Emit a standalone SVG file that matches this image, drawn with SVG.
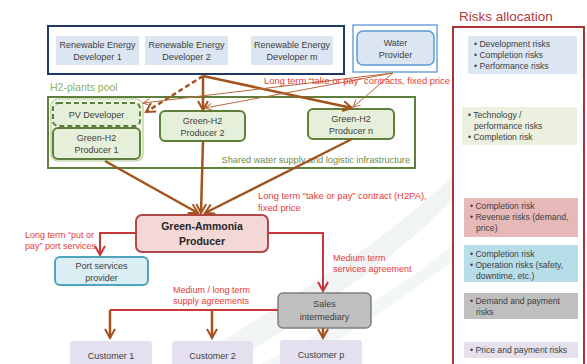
<svg xmlns="http://www.w3.org/2000/svg" width="587" height="364" viewBox="0 0 587 364">
<defs>
<style>
text{font-family:"Liberation Sans",Arial,sans-serif;fill:#404040}
.n{font-size:9px;text-anchor:middle}
.b{font-size:10.5px;font-weight:bold;text-anchor:middle;fill:#262626}
.lab{font-size:9px;fill:#e8393b}
.r{font-size:8.6px;fill:#404040}
.brown{stroke:#a4531c;fill:none}
.red{stroke:#c8373a;fill:none;stroke-width:2}
.thin{stroke:#b8693a;fill:none;stroke-width:1}
</style>
<marker id="ab" markerWidth="12" markerHeight="12" refX="10" refY="6" orient="auto" markerUnits="userSpaceOnUse"><path d="M1,1 L10,6 L1,11" fill="none" stroke="#a4531c" stroke-width="2"/></marker>
<marker id="at" markerWidth="10" markerHeight="10" refX="8" refY="5" orient="auto" markerUnits="userSpaceOnUse"><path d="M1,1.5 L8,5 L1,8.5" fill="none" stroke="#b8693a" stroke-width="1"/></marker>
<marker id="ar" markerWidth="12" markerHeight="12" refX="10" refY="6" orient="auto" markerUnits="userSpaceOnUse"><path d="M1,1 L10,6 L1,11" fill="none" stroke="#c8373a" stroke-width="2"/></marker>
</defs>
<rect width="587" height="364" fill="#ffffff"/>
<!-- faint background swoosh -->
<path d="M190,364 C280,300 380,250 452,175 L452,200 C390,265 300,320 230,364 Z" fill="#f0f4f5"/>
<path d="M260,364 C330,330 400,290 452,245 L452,262 C400,300 340,340 300,364 Z" fill="#f3f6f7"/>

<g id="renewable-group">
<rect x="48" y="26" width="296" height="48" fill="#ffffff" stroke="#1f3864" stroke-width="2"/>
</g>
<g id="red1"><rect x="56" y="36" width="83" height="29" fill="#dce6f2"/><text class="n" x="97.5" y="48">Renewable Energy</text><text class="n" x="97.5" y="60">Developer 1</text></g>
<g id="red2"><rect x="145" y="36" width="83" height="29" fill="#dce6f2"/><text class="n" x="186.5" y="48">Renewable Energy</text><text class="n" x="186.5" y="60">Developer 2</text></g>
<g id="redm"><rect x="251" y="36" width="82" height="29" fill="#dce6f2"/><text class="n" x="292" y="48">Renewable Energy</text><text class="n" x="292" y="60">Developer   m</text></g>
<g id="water">
<rect x="353" y="25" width="84" height="47" fill="#ffffff" stroke="#6fa4dc" stroke-width="1.5"/>
<rect x="357" y="31" width="77" height="34" rx="6" fill="#dce6f2" stroke="#5b9bd5" stroke-width="1.5"/>
<text class="n" x="395.5" y="46">Water</text><text class="n" x="395.5" y="58">Provider</text>
</g>

<g id="pool">
<text x="50" y="91" style="font-size:10.5px;fill:#8fb35f">H2-plants pool</text>
<rect x="48" y="97" width="367" height="71" fill="#ffffff" stroke="#5f7f3c" stroke-width="2"/>
<text x="410" y="163" style="font-size:9.2px;fill:#6b8a4a;text-anchor:end">Shared water supply and logistic infrastructure</text>
<rect x="51" y="99" width="92" height="62" rx="7" fill="#f3f7ec" stroke="#b5cf91" stroke-width="1.2"/>
</g>
<g id="pv"><rect x="53" y="103" width="87" height="23" rx="5" fill="#e6efd9" stroke="#5f7f3c" stroke-width="2" stroke-dasharray="5,3"/><text class="n" x="96.5" y="117.5">PV Developer</text></g>
<g id="p1"><rect x="53" y="128" width="87" height="31" rx="5" fill="#e6efd9" stroke="#5f7f3c" stroke-width="2"/><text class="n" x="96.5" y="141">Green-H2</text><text class="n" x="96.5" y="153">Producer 1</text></g>
<g id="p2"><rect x="160" y="111" width="85" height="30" rx="5" fill="#e6efd9" stroke="#5f7f3c" stroke-width="2"/><text class="n" x="202.5" y="123.5">Green-H2</text><text class="n" x="202.5" y="135.5">Producer 2</text></g>
<g id="pn"><rect x="308" y="109" width="86" height="30" rx="5" fill="#e6efd9" stroke="#5f7f3c" stroke-width="2"/><text class="n" x="351" y="121.5">Green-H2</text><text class="n" x="351" y="133.5">Producer n</text></g>

<g id="ammonia"><rect x="136" y="215" width="132" height="37" rx="6" fill="#f4d7d7" stroke="#b0484a" stroke-width="2"/><text class="b" x="202" y="230">Green-Ammonia</text><text class="b" x="202" y="245">Producer</text></g>
<g id="port"><rect x="55" y="257" width="93" height="28" rx="5" fill="#dbeef3" stroke="#4ea3bd" stroke-width="2"/><text class="n" x="101.5" y="269">Port services</text><text class="n" x="101.5" y="281">provider</text></g>
<g id="sales"><rect x="278" y="293" width="93" height="35" rx="5" fill="#bfbfbf" stroke="#7f7f7f" stroke-width="1.5"/><text class="n" x="324.5" y="307">Sales</text><text class="n" x="324.5" y="320">intermediary</text></g>
<g id="c1"><rect x="70" y="341" width="82" height="26" rx="3" fill="#e5e0ef"/><text class="n" x="111" y="359">Customer 1</text></g>
<g id="c2"><rect x="172" y="341" width="81" height="26" rx="3" fill="#e5e0ef"/><text class="n" x="212.5" y="359">Customer 2</text></g>
<g id="cp"><rect x="280" y="340" width="82" height="27" rx="3" fill="#e5e0ef"/><text class="n" x="321" y="358">Customer  p</text></g>

<g id="connectors">
<path class="brown" d="M203,76 L146,112" stroke-width="2.5" stroke-dasharray="5,3" marker-end="url(#ab)"/>
<path class="brown" d="M203,76 L203,110" stroke-width="2.5" marker-end="url(#ab)"/>
<path class="brown" d="M203,76 L352,108" stroke-width="2.5" marker-end="url(#ab)"/>
<path class="thin" d="M393,73 L143,103" marker-end="url(#at)"/>
<path class="thin" d="M393,73 L205,108" marker-end="url(#at)"/>
<path class="thin" d="M393,73 L353,107" marker-end="url(#at)"/>
<path class="brown" d="M105,161 L198,213" stroke-width="2.5" marker-end="url(#ab)"/>
<path class="brown" d="M203,141 L201,213" stroke-width="2.5" marker-end="url(#ab)"/>
<path class="brown" d="M352,139 L205,213" stroke-width="2.5" marker-end="url(#ab)"/>
<path class="red" d="M136,233 H100 V255" marker-end="url(#ar)"/>
<path class="red" d="M268,233 H323 V291" marker-end="url(#ar)"/>
<path class="red" d="M278,310 H110"/>
<path class="brown" d="M110,310 V338" stroke-width="2.5" marker-end="url(#ab)"/>
<path class="brown" d="M212,310 V338" stroke-width="2.5" marker-end="url(#ab)"/>
<path class="brown" d="M323,328 V338" stroke-width="2.5" marker-end="url(#ab)"/>
</g>

<g id="labels">
<text class="lab" x="264" y="84" style="font-size:9.4px">Long term “take or pay” contracts, fixed price</text>
<text class="lab" x="258" y="199" style="font-size:9.4px">Long term “take or pay” contract (H2PA),</text>
<text class="lab" x="258" y="211" style="font-size:9.4px">fixed price</text>
<text class="lab" x="25" y="238">Long term “put or</text>
<text class="lab" x="25" y="249">pay” port services</text>
<text class="lab" x="333" y="261">Medium term</text>
<text class="lab" x="333" y="272">services agreement</text>
<text class="lab" x="173" y="293">Medium / long term</text>
<text class="lab" x="173" y="304">supply agreements</text>
</g>

<g id="risks">
<text x="459" y="21" style="font-size:13.5px;fill:#b03a3c">Risks allocation</text>
<rect x="453" y="27" width="131" height="345" fill="#ffffff" stroke="#a83234" stroke-width="2"/>
<rect x="468" y="36" width="109" height="38" fill="#dce6f2"/>
<text class="r" x="474" y="47">• Development risks</text>
<text class="r" x="474" y="58">• Completion risks</text>
<text class="r" x="474" y="69">• Performance risks</text>
<rect x="462" y="107" width="115" height="38" fill="#ebf1de"/>
<text class="r" x="468" y="118">• Technology /</text>
<text class="r" x="474" y="129">performance risks</text>
<text class="r" x="468" y="140">• Completion risk</text>
<rect x="464" y="198" width="114" height="39" fill="#e6b9b8"/>
<text class="r" x="470" y="209">• Completion risk</text>
<text class="r" x="470" y="220">• Revenue risks (demand,</text>
<text class="r" x="476" y="231">price)</text>
<rect x="464" y="245" width="114" height="37" fill="#b7dee8"/>
<text class="r" x="470" y="257">• Completion risk</text>
<text class="r" x="470" y="268">• Operation risks (safety,</text>
<text class="r" x="476" y="279">downtime, etc.)</text>
<rect x="464" y="293" width="114" height="26" fill="#bfbfbf"/>
<text class="r" x="470" y="304">• Demand and payment</text>
<text class="r" x="476" y="315">risks</text>
<rect x="464" y="342" width="114" height="16" fill="#e5e0ec"/>
<text class="r" x="470" y="353">• Price and payment risks</text>
</g>
</svg>
